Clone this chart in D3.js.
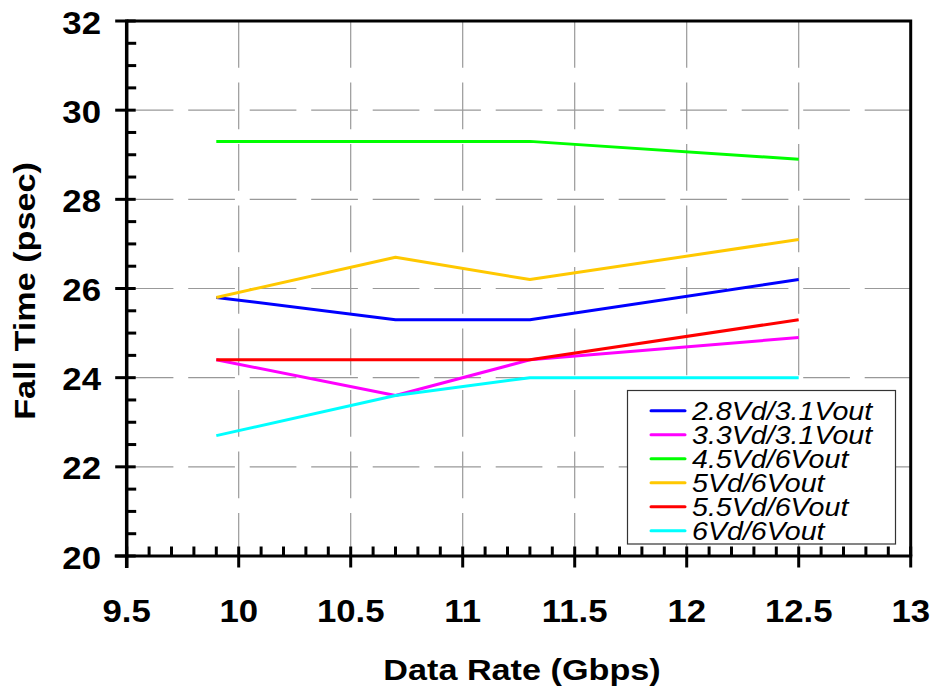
<!DOCTYPE html>
<html>
<head>
<meta charset="utf-8">
<script src="https://cdn.jsdelivr.net/npm/d3@7"></script>
<style>
  html, body { margin: 0; padding: 0; background: #fff; }
  svg { display: block; font-family: "Liberation Sans", Arial, sans-serif; }
</style>
</head>
<body>
<svg id="chart" width="931" height="690"></svg>
<script>
// Measured data rates (Gbps)
const dataRates = [9.9, 10.7, 11.3, 12.5];

// Fall time (psec) per bias condition
const seriesNames = ["2.8Vd/3.1Vout", "3.3Vd/3.1Vout", "4.5Vd/6Vout", "5Vd/6Vout", "5.5Vd/6Vout", "6Vd/6Vout"];
const fall28 = [25.8, 25.3, 25.3, 26.2];
const fall33 = [24.4, 23.6, 24.4, 24.9];
const fall45 = [29.3, 29.3, 29.3, 28.9];
const fall50 = [25.8, 26.7, 26.2, 27.1];
const fall55 = [24.4, 24.4, 24.4, 25.3];
const fall60 = [22.7, 23.6, 24.0, 24.0];
const seriesColors = ["#0000FF", "#FF00FF", "#00FF00", "#FFC800", "#FF0000", "#00FFFF"];

const xTicks = [9.5, 10, 10.5, 11, 11.5, 12, 12.5, 13];
const yTicks = [20, 22, 24, 26, 28, 30, 32];

const allSeries = [fall28, fall33, fall45, fall50, fall55, fall60];

const svg = d3.select("#chart");
const plotL = 126.7, plotR = 910.7, plotT = 21, plotB = 556;

const x = d3.scaleLinear().domain([9.5, 13]).range([plotL, plotR]);
const y = d3.scaleLinear().domain([20, 32]).range([plotB, plotT]);

// Wide-set lettering: glyphs stretched along the reading direction
const wide = 1.14;

// Grid lines (dashed)
const grid = svg.append("g").attr("stroke", "#999").attr("stroke-width", 1.2).attr("stroke-dasharray", "46.7,14.8");
grid.selectAll("line.v").data(xTicks.slice(1, -1)).join("line")
  .attr("x1", d => x(d)).attr("x2", d => x(d))
  .attr("y1", plotT).attr("y2", plotB);
grid.selectAll("line.h").data(yTicks.slice(1, -1)).join("line")
  .attr("x1", plotL).attr("x2", plotR)
  .attr("y1", d => y(d)).attr("y2", d => y(d));

// Top and right frame
svg.append("path")
  .attr("d", `M${plotL},${plotT}H${plotR}V${plotB}`)
  .attr("fill", "none").attr("stroke", "#000").attr("stroke-width", 3);

// Data lines
const line = d3.line().x((d, i) => x(dataRates[i])).y(d => y(d));
svg.append("g").selectAll("path").data(allSeries).join("path")
  .attr("d", d => line(d))
  .attr("fill", "none")
  .attr("stroke", (d, i) => seriesColors[i])
  .attr("stroke-width", 3)
  .attr("stroke-linejoin", "round");

// X axis
const xAxisG = svg.append("g").attr("stroke", "#000");
const xMinor = d3.range(95, 131).map(v => v / 10).filter(v => Math.abs(v * 2 - Math.round(v * 2)) > 1e-6);
xAxisG.selectAll("line.minor").data(xMinor).join("line")
  .attr("x1", d => x(d)).attr("x2", d => x(d))
  .attr("y1", plotB - 9.5).attr("y2", plotB).attr("stroke-width", 3);
xAxisG.selectAll("line.major").data(xTicks).join("line")
  .attr("x1", d => x(d)).attr("x2", d => x(d))
  .attr("y1", plotB - 9.5).attr("y2", plotB + 11.5).attr("stroke-width", 3);
xAxisG.append("line").attr("x1", plotL - 12).attr("x2", plotR + 1.5)
  .attr("y1", plotB).attr("y2", plotB).attr("stroke-width", 3.2);

svg.append("g").selectAll("text").data(xTicks).join("text")
  .attr("transform", d => `translate(${x(d)},621.5) scale(${wide},1)`)
  .attr("text-anchor", "middle")
  .attr("font-size", 30.5).attr("font-weight", "bold")
  .text(d => d);

// Y axis
const yAxisG = svg.append("g").attr("stroke", "#000");
const yMinor = d3.range(20, 32.01, 0.5).filter(v => Math.abs(v / 2 - Math.round(v / 2)) > 1e-6);
yAxisG.selectAll("line.minor").data(yMinor).join("line")
  .attr("x1", plotL).attr("x2", plotL + 9.5)
  .attr("y1", d => y(d)).attr("y2", d => y(d)).attr("stroke-width", 3);
yAxisG.selectAll("line.major").data(yTicks).join("line")
  .attr("x1", plotL - 11.5).attr("x2", plotL + 9)
  .attr("y1", d => y(d)).attr("y2", d => y(d)).attr("stroke-width", 3);
yAxisG.append("line").attr("x1", plotL).attr("x2", plotL)
  .attr("y1", plotT - 1.5).attr("y2", plotB + 12).attr("stroke-width", 3.5);

svg.append("g").selectAll("text").data(yTicks).join("text")
  .attr("transform", d => `translate(101,${y(d) + 12.5}) scale(${wide},1)`)
  .attr("text-anchor", "end")
  .attr("font-size", 30.5).attr("font-weight", "bold")
  .text(d => d);

// Axis titles
svg.append("text")
  .attr("transform", `translate(522,680) scale(${wide},1)`)
  .attr("text-anchor", "middle")
  .attr("font-size", 30).attr("font-weight", "bold")
  .text("Data Rate (Gbps)");
svg.append("text")
  .attr("transform", `translate(35,291) rotate(-90) scale(${wide},1)`)
  .attr("text-anchor", "middle")
  .attr("font-size", 30).attr("font-weight", "bold")
  .text("Fall Time (psec)");

// Legend
const legend = svg.append("g");
legend.append("rect")
  .attr("x", 627.5).attr("y", 390.5).attr("width", 268).attr("height", 153.5)
  .attr("fill", "#fff").attr("stroke", "#333").attr("stroke-width", 1.2);
const rows = legend.selectAll("g.row").data(seriesNames).join("g")
  .attr("transform", (d, i) => `translate(0,${410.7 + i * 24})`);
rows.append("line")
  .attr("x1", 651).attr("x2", 685).attr("y1", 0).attr("y2", 0)
  .attr("stroke", (d, i) => seriesColors[i]).attr("stroke-width", 3).attr("stroke-linecap", "round");
rows.append("text")
  .attr("transform", "translate(692,9.3) scale(1.1,1)")
  .attr("font-size", 26).attr("font-style", "italic")
  .text(d => d);
</script>
</body>
</html>
